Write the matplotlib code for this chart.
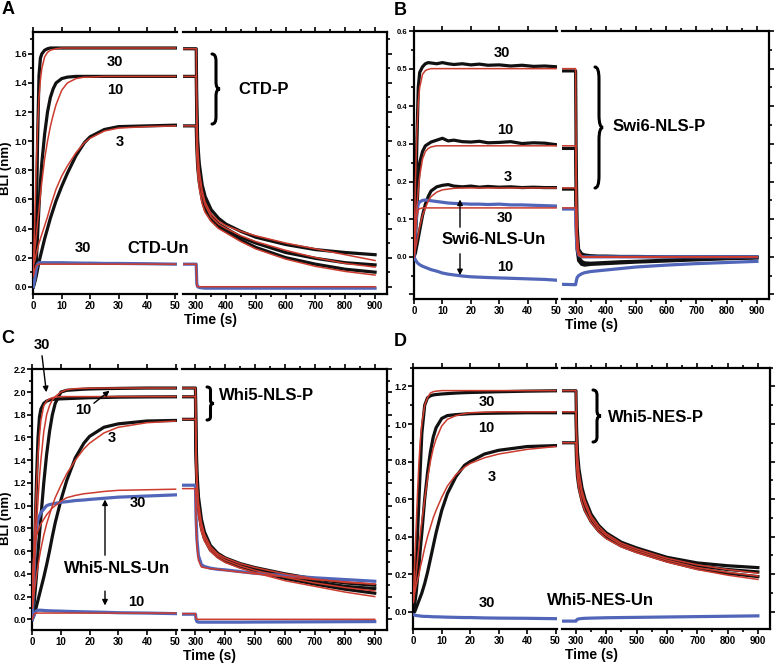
import matplotlib
matplotlib.use("Agg")
import matplotlib.pyplot as plt
from matplotlib.path import Path
from matplotlib.patches import PathPatch
from matplotlib.ticker import MultipleLocator, FuncFormatter

plt.rcParams['font.family'] = ['Liberation Sans', 'DejaVu Sans']
plt.rcParams['font.weight'] = 'bold'

W, H = 775, 668
BLACK = '#111111'
RED = '#cc3b2e'
BLUE = '#5166b8'

# ---------------- data ----------------
# association phase time points (s)
t_on = [0, 0.5, 1, 1.5, 2, 2.5, 3, 4, 5, 6, 7, 8, 10, 12, 15, 18, 20, 25, 30, 40, 50]
# dissociation phase time points (s)
t_off = [254, 300, 302, 305, 310, 320, 330, 350, 375, 400, 450, 500, 600, 700, 800, 900]

# Panel A: CTD-P (30, 10, 3) and CTD-Un (30)
A_30 = [0.00, 0.05, 0.35, 1.00, 1.45, 1.57, 1.60, 1.625, 1.635, 1.64, 1.64, 1.64, 1.64, 1.64, 1.64, 1.64, 1.64, 1.64, 1.64, 1.64, 1.64]
A_30_fit = [0.10, 0.45, 0.80, 1.10, 1.30, 1.42, 1.50, 1.58, 1.61, 1.625, 1.63, 1.635, 1.64, 1.64, 1.64, 1.64, 1.64, 1.64, 1.64, 1.64, 1.64]
A_10 = [0.00, 0.05, 0.15, 0.35, 0.55, 0.72, 0.85, 1.05, 1.20, 1.30, 1.36, 1.40, 1.43, 1.44, 1.445, 1.445, 1.445, 1.445, 1.445, 1.445, 1.445]
A_10_fit = [0.15, 0.25, 0.34, 0.44, 0.53, 0.63, 0.72, 0.88, 1.00, 1.10, 1.18, 1.25, 1.35, 1.40, 1.43, 1.44, 1.44, 1.445, 1.445, 1.445, 1.445]
A_3 = [0.00, 0.03, 0.07, 0.12, 0.17, 0.21, 0.25, 0.33, 0.40, 0.47, 0.53, 0.59, 0.69, 0.78, 0.90, 0.99, 1.03, 1.08, 1.10, 1.105, 1.11]
A_3_fit = [0.15, 0.18, 0.22, 0.26, 0.30, 0.33, 0.36, 0.42, 0.48, 0.55, 0.61, 0.67, 0.76, 0.83, 0.92, 0.99, 1.02, 1.07, 1.09, 1.10, 1.105]
A_un30 = [0.00, 0.05, 0.12, 0.155, 0.165, 0.165, 0.165, 0.165, 0.165, 0.165, 0.165, 0.165, 0.165, 0.164, 0.163, 0.162, 0.162, 0.16, 0.16, 0.158, 0.155]
A_un30_fit = [0.07, 0.12, 0.145, 0.152, 0.155, 0.155, 0.155, 0.155, 0.155, 0.155, 0.155, 0.155, 0.155, 0.155, 0.155, 0.155, 0.155, 0.155, 0.155, 0.155, 0.155]
A_off_30 = [1.635, 1.635, 1.25, 1.00, 0.85, 0.70, 0.62, 0.53, 0.47, 0.43, 0.38, 0.34, 0.29, 0.255, 0.235, 0.22]
A_off_30_fit = [1.635, 1.635, 1.20, 0.95, 0.80, 0.66, 0.58, 0.50, 0.45, 0.42, 0.38, 0.35, 0.30, 0.26, 0.22, 0.18]
A_off_10 = [1.445, 1.445, 1.15, 0.95, 0.80, 0.66, 0.58, 0.49, 0.43, 0.40, 0.34, 0.30, 0.235, 0.195, 0.165, 0.15]
A_off_10_fit = [1.445, 1.445, 1.10, 0.90, 0.76, 0.63, 0.56, 0.48, 0.43, 0.40, 0.35, 0.31, 0.25, 0.20, 0.16, 0.135]
A_off_3 = [1.105, 1.105, 0.95, 0.82, 0.72, 0.60, 0.53, 0.46, 0.41, 0.38, 0.32, 0.27, 0.20, 0.155, 0.12, 0.10]
A_off_3_fit = [1.105, 1.105, 0.90, 0.78, 0.68, 0.57, 0.51, 0.45, 0.40, 0.37, 0.31, 0.26, 0.19, 0.14, 0.105, 0.08]
A_off_un30 = [0.155, 0.155, 0.02, 0.0, -0.005, -0.008, -0.01, -0.01, -0.01, -0.01, -0.01, -0.01, -0.01, -0.01, -0.01, -0.01]
A_off_un30_fit = [0.155, 0.155, 0.01, 0.0, 0.0, 0.0, 0.0, 0.0, 0.0, 0.0, 0.0, 0.0, 0.0, 0.0, 0.0, 0.0]

# Panel B: Swi6-NLS-P (30, 10, 3) and Swi6-NLS-Un (30, 10)
tB_on = [0, 0.5, 1, 1.5, 2, 3, 4, 5, 6, 8, 10, 12, 14, 17, 20, 23, 26, 30, 34, 38, 42, 46, 50]
B_30 = [0.00, 0.12, 0.30, 0.45, 0.49, 0.505, 0.513, 0.516, 0.515, 0.513, 0.516, 0.513, 0.511, 0.513, 0.510, 0.512, 0.509, 0.510, 0.507, 0.509, 0.506, 0.507, 0.505]
B_30_fit = [0.00, 0.20, 0.33, 0.41, 0.45, 0.485, 0.495, 0.498, 0.50, 0.50, 0.50, 0.50, 0.50, 0.50, 0.50, 0.50, 0.50, 0.50, 0.50, 0.50, 0.50, 0.50, 0.50]
B_10 = [0.00, 0.05, 0.12, 0.20, 0.25, 0.28, 0.295, 0.30, 0.305, 0.31, 0.315, 0.308, 0.31, 0.306, 0.305, 0.307, 0.303, 0.304, 0.306, 0.301, 0.303, 0.302, 0.298]
B_10_fit = [0.00, 0.07, 0.13, 0.18, 0.215, 0.26, 0.28, 0.288, 0.292, 0.295, 0.295, 0.295, 0.295, 0.295, 0.295, 0.295, 0.295, 0.295, 0.295, 0.295, 0.295, 0.295, 0.295]
B_3 = [0.00, 0.01, 0.03, 0.05, 0.07, 0.11, 0.14, 0.16, 0.175, 0.186, 0.19, 0.192, 0.188, 0.186, 0.188, 0.185, 0.187, 0.185, 0.186, 0.184, 0.185, 0.184, 0.184]
B_3_fit = [0.00, 0.02, 0.04, 0.06, 0.08, 0.11, 0.13, 0.148, 0.16, 0.172, 0.178, 0.18, 0.182, 0.183, 0.183, 0.183, 0.183, 0.183, 0.183, 0.183, 0.183, 0.183, 0.183]
B_un30 = [0.00, 0.07, 0.12, 0.14, 0.146, 0.15, 0.151, 0.15, 0.149, 0.147, 0.145, 0.143, 0.142, 0.141, 0.14, 0.14, 0.139, 0.14, 0.138, 0.138, 0.137, 0.136, 0.135]
B_un30_fit = [0.00, 0.07, 0.11, 0.125, 0.128, 0.13, 0.13, 0.13, 0.13, 0.13, 0.13, 0.13, 0.13, 0.13, 0.13, 0.13, 0.13, 0.13, 0.13, 0.13, 0.13, 0.13, 0.13]
B_un10 = [0.00, -0.008, -0.014, -0.018, -0.021, -0.025, -0.028, -0.031, -0.034, -0.038, -0.043, -0.046, -0.048, -0.051, -0.053, -0.054, -0.055, -0.056, -0.057, -0.058, -0.059, -0.060, -0.062]
B_off_30 = [0.494, 0.494, 0.25, 0.08, 0.02, 0.008, 0.005, 0.003, 0.002, 0.002, 0.001, 0.001, 0.0, 0.0, 0.0, 0.0]
B_off_30_fit = [0.50, 0.50, 0.25, 0.07, 0.015, 0.002, 0.0, 0.0, 0.0, 0.0, 0.0, 0.0, 0.0, 0.0, 0.0, 0.0]
B_off_10 = [0.288, 0.288, 0.15, 0.04, 0.0, -0.012, -0.016, -0.017, -0.016, -0.015, -0.013, -0.012, -0.009, -0.006, -0.004, -0.002]
B_off_10_fit = [0.295, 0.295, 0.15, 0.04, 0.008, 0.001, 0.0, 0.0, 0.0, 0.0, 0.0, 0.0, 0.0, 0.0, 0.0, 0.0]
B_off_3 = [0.18, 0.18, 0.09, 0.02, -0.01, -0.02, -0.022, -0.02, -0.019, -0.018, -0.016, -0.014, -0.011, -0.008, -0.005, -0.003]
B_off_3_fit = [0.183, 0.183, 0.09, 0.025, 0.005, 0.0, 0.0, 0.0, 0.0, 0.0, 0.0, 0.0, 0.0, 0.0, 0.0, 0.0]
B_off_un30 = [0.127, 0.127, 0.06, 0.02, 0.005, 0.0, 0.0, 0.0, 0.0, 0.0, 0.0, 0.0, 0.0, 0.0, 0.0, 0.0]
B_off_un30_fit = [0.13, 0.13, 0.06, 0.02, 0.005, 0.0, 0.0, 0.0, 0.0, 0.0, 0.0, 0.0, 0.0, 0.0, 0.0, 0.0]
B_off_un10 = [-0.073, -0.074, -0.065, -0.055, -0.05, -0.045, -0.042, -0.039, -0.037, -0.035, -0.031, -0.027, -0.022, -0.018, -0.015, -0.012]

# Panel C: Whi5-NLS-P (30, 10, 3) and Whi5-NLS-Un (30, 10)
C_30 = [0.00, 0.35, 0.80, 1.25, 1.60, 1.78, 1.85, 1.90, 1.92, 1.93, 1.935, 1.937, 1.94, 1.942, 1.945, 1.948, 1.95, 1.952, 1.955, 1.957, 1.958]
C_30_fit = [0.10, 0.55, 0.90, 1.20, 1.45, 1.62, 1.75, 1.88, 1.92, 1.94, 1.95, 1.955, 1.96, 1.96, 1.96, 1.96, 1.96, 1.96, 1.96, 1.96, 1.96]
C_10 = [0.00, 0.10, 0.25, 0.40, 0.60, 0.75, 0.90, 1.20, 1.45, 1.65, 1.80, 1.90, 2.00, 2.015, 2.02, 2.025, 2.027, 2.03, 2.032, 2.035, 2.035]
C_10_fit = [0.10, 0.35, 0.60, 0.85, 1.05, 1.25, 1.40, 1.65, 1.80, 1.88, 1.93, 1.96, 2.00, 2.02, 2.03, 2.032, 2.034, 2.035, 2.035, 2.035, 2.035]
C_3 = [0.00, 0.03, 0.07, 0.12, 0.17, 0.22, 0.27, 0.37, 0.48, 0.60, 0.73, 0.85, 1.05, 1.22, 1.42, 1.55, 1.61, 1.69, 1.72, 1.745, 1.75]
C_3_fit = [0.10, 0.20, 0.30, 0.39, 0.47, 0.55, 0.62, 0.74, 0.84, 0.92, 1.00, 1.07, 1.18, 1.28, 1.40, 1.50, 1.55, 1.64, 1.69, 1.73, 1.745]
C_un30 = [0.00, 0.35, 0.70, 0.82, 0.88, 0.91, 0.94, 0.97, 1.00, 1.01, 1.015, 1.02, 1.03, 1.035, 1.045, 1.05, 1.055, 1.065, 1.075, 1.085, 1.095]
C_un30_fit = [0.35, 0.55, 0.68, 0.74, 0.78, 0.81, 0.84, 0.88, 0.92, 0.95, 0.98, 1.00, 1.04, 1.07, 1.09, 1.105, 1.11, 1.125, 1.135, 1.14, 1.145]
C_un10 = [0.00, 0.03, 0.06, 0.075, 0.08, 0.08, 0.08, 0.078, 0.076, 0.075, 0.074, 0.073, 0.072, 0.07, 0.068, 0.066, 0.065, 0.062, 0.058, 0.055, 0.05]
C_un10_fit = [0.00, 0.04, 0.055, 0.055, 0.055, 0.055, 0.055, 0.055, 0.055, 0.055, 0.055, 0.055, 0.055, 0.055, 0.055, 0.055, 0.055, 0.055, 0.055, 0.055, 0.055]
C_off_10 = [2.035, 2.035, 1.60, 1.30, 1.08, 0.88, 0.77, 0.65, 0.58, 0.54, 0.49, 0.455, 0.40, 0.355, 0.32, 0.30]
C_off_10_fit = [2.035, 2.035, 1.55, 1.25, 1.03, 0.85, 0.75, 0.64, 0.575, 0.54, 0.49, 0.455, 0.40, 0.355, 0.325, 0.31]
C_off_30 = [1.958, 1.958, 1.50, 1.22, 1.02, 0.84, 0.74, 0.63, 0.565, 0.525, 0.475, 0.44, 0.38, 0.33, 0.29, 0.27]
C_off_30_fit = [1.96, 1.96, 1.45, 1.18, 0.98, 0.81, 0.72, 0.62, 0.56, 0.52, 0.47, 0.43, 0.37, 0.32, 0.28, 0.25]
C_off_3 = [1.76, 1.76, 1.40, 1.15, 0.97, 0.80, 0.71, 0.61, 0.55, 0.51, 0.46, 0.425, 0.36, 0.31, 0.265, 0.23]
C_off_3_fit = [1.76, 1.76, 1.35, 1.10, 0.92, 0.77, 0.69, 0.60, 0.54, 0.50, 0.45, 0.41, 0.34, 0.29, 0.24, 0.20]
C_off_un30 = [1.18, 1.18, 0.90, 0.70, 0.56, 0.48, 0.465, 0.45, 0.44, 0.435, 0.42, 0.405, 0.385, 0.365, 0.35, 0.335]
C_off_un30_fit = [1.15, 1.15, 0.85, 0.65, 0.52, 0.46, 0.455, 0.445, 0.44, 0.43, 0.415, 0.40, 0.375, 0.35, 0.33, 0.31]
C_off_un10 = [0.045, 0.045, 0.0, -0.02, -0.025, -0.025, -0.025, -0.025, -0.025, -0.025, -0.025, -0.024, -0.023, -0.022, -0.021, -0.02]
C_off_un10_fit = [0.05, 0.05, 0.005, 0.0, 0.0, 0.0, 0.0, 0.0, 0.0, 0.0, 0.0, 0.0, 0.0, 0.0, 0.0, 0.0]

# Panel D: Whi5-NES-P (30, 10, 3) and Whi5-NES-Un (30)
D_30 = [0.00, 0.10, 0.25, 0.42, 0.60, 0.78, 0.95, 1.10, 1.14, 1.15, 1.155, 1.157, 1.16, 1.162, 1.165, 1.167, 1.168, 1.17, 1.172, 1.175, 1.177]
D_30_fit = [0.05, 0.27, 0.45, 0.64, 0.80, 0.92, 1.00, 1.10, 1.14, 1.165, 1.172, 1.175, 1.178, 1.178, 1.178, 1.178, 1.178, 1.178, 1.178, 1.178, 1.178]
D_10 = [0.00, 0.04, 0.10, 0.18, 0.25, 0.34, 0.42, 0.60, 0.74, 0.85, 0.93, 0.98, 1.03, 1.045, 1.05, 1.053, 1.055, 1.057, 1.058, 1.06, 1.06]
D_10_fit = [0.05, 0.13, 0.20, 0.28, 0.35, 0.42, 0.48, 0.60, 0.71, 0.80, 0.87, 0.92, 0.99, 1.025, 1.045, 1.055, 1.06, 1.063, 1.065, 1.065, 1.065]
D_3 = [0.00, 0.00, 0.02, 0.04, 0.06, 0.08, 0.10, 0.15, 0.21, 0.28, 0.35, 0.42, 0.54, 0.63, 0.72, 0.78, 0.80, 0.84, 0.86, 0.88, 0.885]
D_3_fit = [0.05, 0.10, 0.14, 0.17, 0.20, 0.24, 0.27, 0.34, 0.40, 0.45, 0.50, 0.54, 0.61, 0.67, 0.73, 0.77, 0.79, 0.82, 0.84, 0.865, 0.88]
D_un30 = [-0.015, -0.018, -0.02, -0.021, -0.022, -0.023, -0.024, -0.025, -0.025, -0.026, -0.027, -0.027, -0.028, -0.029, -0.03, -0.031, -0.031, -0.033, -0.034, -0.035, -0.037]
D_off_30 = [1.177, 1.177, 0.98, 0.85, 0.76, 0.66, 0.60, 0.52, 0.46, 0.42, 0.37, 0.34, 0.29, 0.26, 0.245, 0.235]
D_off_30_fit = [1.178, 1.178, 0.96, 0.83, 0.74, 0.645, 0.59, 0.51, 0.455, 0.415, 0.365, 0.335, 0.285, 0.25, 0.225, 0.205]
D_off_10 = [1.06, 1.06, 0.90, 0.80, 0.72, 0.63, 0.58, 0.50, 0.445, 0.41, 0.36, 0.33, 0.28, 0.245, 0.225, 0.212]
D_off_10_fit = [1.065, 1.065, 0.88, 0.78, 0.70, 0.62, 0.57, 0.495, 0.44, 0.405, 0.355, 0.325, 0.275, 0.235, 0.21, 0.19]
D_off_3 = [0.90, 0.90, 0.80, 0.72, 0.66, 0.59, 0.54, 0.48, 0.43, 0.395, 0.35, 0.32, 0.27, 0.23, 0.205, 0.187]
D_off_3_fit = [0.90, 0.90, 0.78, 0.71, 0.65, 0.58, 0.535, 0.475, 0.425, 0.39, 0.345, 0.315, 0.265, 0.225, 0.195, 0.172]
D_off_un30 = [-0.05, -0.05, -0.045, -0.04, -0.038, -0.036, -0.035, -0.034, -0.033, -0.032, -0.031, -0.03, -0.028, -0.026, -0.024, -0.022]


def fx(x):
    return x / W


def fy(y):
    return 1 - y / H


def ylab(v, pos):
    if v < -1e-9:
        return ""
    return "%.1f" % abs(v)


def make_panel(fig, xs, ytop, ybot, ylim, ymaj, ymin, ysize):
    """ xs = left seg start/end, right seg start/end in pixels. """
    axL = fig.add_axes([fx(xs[0]), fy(ybot), fx(xs[1] - xs[0]), (ybot - ytop) / H])
    axR = fig.add_axes([fx(xs[2]), fy(ybot), fx(xs[3] - xs[2]), (ybot - ytop) / H])
    axL.set_xlim(0, 50.4)
    axR.set_xlim(254, 940)
    for ax in (axL, axR):
        ax.set_ylim(*ylim)
        for s in ax.spines.values():
            s.set_linewidth(1.6)
        ax.yaxis.set_major_locator(MultipleLocator(ymaj))
        ax.yaxis.set_minor_locator(MultipleLocator(ymin))
        ax.yaxis.set_major_formatter(FuncFormatter(ylab))
        ax.tick_params(which='both', direction='out', top=True, width=1.2, pad=1.2)
        ax.tick_params(which='major', length=3.5)
        ax.tick_params(which='minor', length=2.5)
        ax.tick_params(axis='x', labelsize=7)
        ax.tick_params(axis='y', labelsize=ysize)
    axL.spines['right'].set_visible(False)
    axL.xaxis.set_major_locator(MultipleLocator(10))
    axL.tick_params(axis='y', which='both', right=False)
    axR.spines['left'].set_visible(False)
    axR.xaxis.set_major_locator(MultipleLocator(100))
    axR.xaxis.set_minor_locator(MultipleLocator(50))
    axR.tick_params(axis='y', which='both', left=False, right=True, labelleft=False)
    fig.text(fx((xs[0] + xs[3]) / 2), fy(ybot + 26), "Time (s)", ha='center', va='center', fontsize=10)
    return axL, axR


def curves(ax, t, black=(), blue=(), red=()):
    for y in black:
        ax.plot(t, y, color=BLACK, lw=2.3, zorder=2)
    for y in blue:
        ax.plot(t, y, color=BLUE, lw=2.3, zorder=3)
    for y in red:
        ax.plot(t, y, color=RED, lw=1.1, zorder=4)


def label(fig, x, y, s, size=10.5):
    fig.text(fx(x), fy(y), s, ha='center', va='center', fontsize=size)


def arrow(fig, x0, y0, x1, y1):
    fig.add_artist(matplotlib.patches.FancyArrowPatch(
        (fx(x0), fy(y0)), (fx(x1), fy(y1)), transform=fig.transFigure,
        arrowstyle='-|>', mutation_scale=8, lw=1.0, color='black'))


def brace(fig, x, ytop, ybot, w):
    xm = x + w / 2
    ym = (ytop + ybot) / 2
    d = (ybot - ytop) * 0.1
    pts = [(x, ytop), (xm, ytop), (xm, ytop + d), (xm, ym - d), (xm, ym), (x + w, ym),
           (xm, ym), (xm, ym + d), (xm, ybot - d), (xm, ybot), (x, ybot)]
    codes = [Path.MOVETO, Path.CURVE3, Path.CURVE3, Path.LINETO, Path.CURVE3, Path.CURVE3,
             Path.CURVE3, Path.CURVE3, Path.LINETO, Path.CURVE3, Path.CURVE3]
    path = Path([(fx(a), fy(b)) for a, b in pts], codes)
    fig.add_artist(PathPatch(path, transform=fig.transFigure, fill=False, lw=2.2,
                             edgecolor='black', capstyle='round'))


fig = plt.figure(figsize=(W / 100, H / 100), dpi=100)

# ---- A ----
aL, aR = make_panel(fig, (33.3, 176.5, 182.5, 387), 32, 294, (-0.05, 1.75), 0.2, 0.1, 6.5)
curves(aL, t_on, black=[A_30, A_10, A_3], blue=[A_un30], red=[A_30_fit, A_10_fit, A_3_fit, A_un30_fit])
curves(aR, t_off, black=[A_off_30, A_off_10, A_off_3], blue=[A_off_un30],
       red=[A_off_30_fit, A_off_10_fit, A_off_3_fit, A_off_un30_fit])
fig.text(fx(6.5), fy(168), "BLI (nm)", rotation=90, ha='center', va='center', fontsize=9.5)
label(fig, 115, 61.7, "30")
label(fig, 115, 90, "10")
label(fig, 120, 141.7, "3")
label(fig, 83.3, 248.3, "30")
label(fig, 158.3, 248.3, "CTD-Un", 12)
label(fig, 264, 90, "CTD-P", 12)
brace(fig, 212, 54, 124, 8)

# ---- B ----
bL, bR = make_panel(fig, (414, 557.3, 561.7, 769), 31, 299, (-0.112, 0.6), 0.1, 0.05, 5.5)
curves(bL, tB_on, black=[B_30, B_10, B_3], blue=[B_un30, B_un10], red=[B_30_fit, B_10_fit, B_3_fit, B_un30_fit])
curves(bR, t_off, black=[B_off_30, B_off_10, B_off_3], blue=[B_off_un30, B_off_un10],
       red=[B_off_30_fit, B_off_10_fit, B_off_3_fit, B_off_un30_fit])
label(fig, 501.7, 53.3, "30")
label(fig, 505, 130, "10")
label(fig, 507.3, 176.7, "3")
label(fig, 505, 218.3, "30")
label(fig, 493.3, 240, "Swi6-NLS-Un", 12)
label(fig, 505, 266.7, "10")
arrow(fig, 460, 230, 460, 196.7)
arrow(fig, 460, 251, 460, 278)
label(fig, 659.3, 126.7, "Swi6-NLS-P", 12)
brace(fig, 595, 67, 188, 8)

# ---- C ----
cL, cR = make_panel(fig, (32.3, 176.7, 181.7, 386.7), 369.3, 630, (-0.094, 2.2), 0.2, 0.1, 6.5)
curves(cL, t_on, black=[C_30, C_10, C_3], blue=[C_un30, C_un10],
       red=[C_30_fit, C_10_fit, C_3_fit, C_un30_fit, C_un10_fit])
curves(cR, t_off, black=[C_off_10, C_off_30, C_off_3], blue=[C_off_un30, C_off_un10],
       red=[C_off_10_fit, C_off_30_fit, C_off_3_fit, C_off_un30_fit, C_off_un10_fit])
fig.text(fx(6.5), fy(518), "BLI (nm)", rotation=90, ha='center', va='center', fontsize=9.5)
label(fig, 41.7, 345, "30")
arrow(fig, 41.7, 353, 46.7, 395)
label(fig, 83.3, 410, "10")
arrow(fig, 91.7, 405, 111.7, 389)
label(fig, 111.7, 438.3, "3")
label(fig, 138.3, 503.3, "30")
arrow(fig, 105, 558, 105, 496.7)
label(fig, 116.7, 568.3, "Whi5-NLS-Un", 12)
arrow(fig, 105, 588.3, 105, 608.3)
label(fig, 136.7, 601.7, "10")
label(fig, 266.7, 395, "Whi5-NLS-P", 12)
brace(fig, 207, 387, 420, 7)

# ---- D ----
dL, dR = make_panel(fig, (413.3, 556.7, 562, 770), 367.7, 629, (-0.092, 1.30), 0.2, 0.1, 6.5)
curves(dL, t_on, black=[D_30, D_10, D_3], blue=[D_un30], red=[D_30_fit, D_10_fit, D_3_fit])
curves(dR, t_off, black=[D_off_30, D_off_10, D_off_3], blue=[D_off_un30],
       red=[D_off_30_fit, D_off_10_fit, D_off_3_fit])
label(fig, 486.7, 401.7, "30")
label(fig, 486.7, 428.3, "10")
label(fig, 491.7, 476.7, "3")
label(fig, 486.7, 603.3, "30")
label(fig, 600, 600.7, "Whi5-NES-Un", 12)
label(fig, 655.7, 417.3, "Whi5-NES-P", 12)
brace(fig, 593, 390, 442, 8)

# panel letters
for s, x, y in [("A", 8.3, 9.2), ("B", 400, 10.8), ("C", 7.5, 338), ("D", 400, 342)]:
    label(fig, x, y, s, 13)

fig.savefig("out.png", dpi=100)
